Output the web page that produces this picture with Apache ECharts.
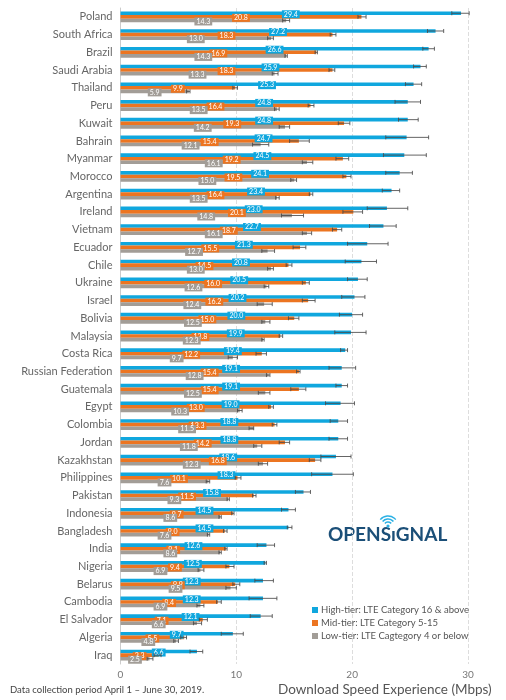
<!DOCTYPE html>
<html><head><meta charset="utf-8">
<script src="https://cdn.jsdelivr.net/npm/echarts@6/dist/echarts.min.js"></script>
<style>html,body{margin:0;padding:0;background:#fff}#c{width:506px;height:700px}</style>
</head><body><div id="c"></div>
<script>
const countries = ["Poland","South Africa","Brazil","Saudi Arabia","Thailand","Peru","Kuwait","Bahrain","Myanmar","Morocco","Argentina","Ireland","Vietnam","Ecuador","Chile","Ukraine","Israel","Bolivia","Malaysia","Costa Rica","Russian Federation","Guatemala","Egypt","Colombia","Jordan","Kazakhstan","Philippines","Pakistan","Indonesia","Bangladesh","India","Nigeria","Belarus","Cambodia","El Salvador","Algeria","Iraq"];
const high = [29.4,27.2,26.6,25.9,25.3,24.8,24.8,24.7,24.5,24.1,23.4,23.0,22.7,21.3,20.8,20.5,20.2,20.0,19.9,19.4,19.1,19.1,19.0,18.8,18.8,18.6,18.3,15.8,14.5,14.5,12.6,12.5,12.3,12.3,12.1,9.7,6.6];
const mid = [20.8,18.3,16.9,18.3,9.9,16.4,19.3,15.4,19.2,19.5,16.4,20.1,18.7,15.5,14.5,16.0,16.2,15.0,13.8,12.2,15.4,15.4,13.0,13.3,14.2,16.8,10.1,11.5,9.7,9.0,9.1,9.4,9.9,8.4,7.1,5.5,3.3];
const low = [14.3,13.0,14.3,13.3,5.9,13.5,14.2,12.1,16.1,15.0,13.5,14.8,16.1,12.7,13.0,12.6,12.4,12.5,12.3,9.7,12.8,12.5,10.3,11.5,11.8,12.3,7.6,9.3,8.6,7.6,8.6,6.9,9.5,6.9,6.6,4.8,2.5];
const highLo = [28.6,26.5,26.1,25.3,24.6,23.7,24.0,22.9,22.7,22.9,22.6,21.3,21.5,19.6,19.4,19.6,19.1,18.9,18.5,19.0,18.0,18.6,17.7,18.1,18.0,17.3,16.5,15.1,13.9,14.4,11.8,12.4,11.6,11.1,11.2,8.7,6.0];
const highHi = [30.1,27.9,27.1,26.4,26.0,25.9,25.7,26.6,26.4,25.2,24.1,24.8,23.8,23.1,22.1,21.3,21.1,20.9,21.2,19.6,20.3,19.6,20.2,19.6,19.6,19.9,20.1,16.4,15.1,14.8,13.3,12.6,13.2,13.5,13.1,10.6,7.1];
const midLo = [20.5,18.1,16.8,18.0,9.7,16.2,18.8,14.6,18.6,19.2,16.3,19.2,18.3,14.9,14.3,15.7,15.7,14.5,13.7,11.7,15.2,14.7,12.8,13.1,13.7,16.3,9.9,11.4,9.6,8.9,9.0,9.1,9.7,8.3,6.8,5.2,2.9];
const midHi = [21.2,18.6,17.0,18.5,10.1,16.7,19.8,16.3,19.7,19.9,16.6,20.9,19.1,16.0,14.8,16.3,16.8,15.4,14.0,12.6,15.5,16.0,13.2,13.5,14.6,17.3,10.4,11.7,9.8,9.2,9.2,9.8,10.3,8.7,7.5,5.7,3.5];
const lowLo = [14.0,12.7,14.2,13.1,5.7,13.3,13.7,11.4,15.7,14.7,13.4,13.9,15.7,12.2,12.7,12.4,11.8,12.2,12.2,9.3,12.6,11.9,10.1,11.1,11.5,11.9,7.4,9.2,8.5,7.5,8.5,6.7,9.1,6.6,6.3,4.6,2.3];
const lowHi = [14.6,13.2,14.4,13.6,6.0,13.7,14.6,12.8,16.6,15.2,13.7,15.8,16.5,13.3,13.2,12.8,13.1,12.9,12.4,10.1,12.9,12.9,10.5,11.5,12.2,12.7,7.7,9.4,8.7,7.7,8.7,7.2,10.0,7.2,7.0,5.0,2.8];
const xTicks = [0,10,20,30];
const seriesNames = ["High-tier: LTE Category 16 & above","Mid-tier: LTE Category 5-15","Low-tier: LTE Cagtegory 4 or below"];

const colors = ['#10a7de','#ec7521','#a29d97'];
const BW = 3.6;
const font = 'Lato, "Open Sans", sans-serif';

function barSeries(name, data, color){
  return {
    type:'bar', name, data, barWidth:BW, barGap:'0%',
    itemStyle:{color},
    label:{show:true, position:'inside', formatter:p=>p.value.toFixed(1),
      color:'#fff', fontSize:7, fontFamily:font, backgroundColor:color,
      padding:[1,2,0,2], lineHeight:7, offset:[0,1]}
  };
}
function errSeries(lo, hi, offset){
  const data = lo.map((v,i)=>[v, hi[i], i]);
  return {
    type:'custom', data, encode:{x:[0,1], y:2}, z:3, silent:true,
    renderItem:function(params, api){
      const a = api.coord([api.value(0), api.value(2)]);
      const b = api.coord([api.value(1), api.value(2)]);
      const y = a[1] + offset;
      const st = {stroke:'#4a4a4a', lineWidth:1, opacity:0.85};
      return {type:'group', children:[
        {type:'line', shape:{x1:a[0], y1:y, x2:b[0], y2:y}, style:st},
        {type:'line', shape:{x1:a[0], y1:y-2, x2:a[0], y2:y+2}, style:st},
        {type:'line', shape:{x1:b[0], y1:y-2, x2:b[0], y2:y+2}, style:st}
      ]};
    }
  };
}

const chart = echarts.init(document.getElementById('c'));
chart.setOption({
  animation:false,
  textStyle:{fontFamily:font},
  grid:{left:120.5, right:38, top:8, bottom:36},
  xAxis:{type:'value', min:xTicks[0], max:xTicks[xTicks.length-1], interval:10,
    axisLine:{show:false}, axisTick:{show:false},
    axisLabel:{color:'#777', fontSize:10, fontFamily:font, margin:6},
    splitLine:{show:true, lineStyle:{color:'#ddd', type:'dashed', width:1}}},
  yAxis:{type:'category', data:countries, inverse:true,
    axisLine:{show:true, lineStyle:{color:'#ccc'}}, axisTick:{show:false},
    axisLabel:{color:'#666', fontSize:11, fontFamily:font, margin:8}},
  legend:{orient:'vertical', left:307, top:600, itemWidth:6, itemHeight:6, itemGap:3,
    icon:'rect', data:seriesNames,
    textStyle:{color:'#555', fontSize:9.5, fontFamily:font, padding:[0,0,0,-2]}},
  series:[
    barSeries(seriesNames[0], high, colors[0]),
    barSeries(seriesNames[1], mid, colors[1]),
    barSeries(seriesNames[2], low, colors[2]),
    errSeries(highLo, highHi, -BW),
    errSeries(midLo, midHi, 0),
    errSeries(lowLo, lowHi, BW)
  ],
  graphic:[
    {type:'text', left:10, top:685, style:{text:'Data collection period April 1 – June 30, 2019.', fill:'#444', fontSize:9.5, fontFamily:font}},
    {type:'text', left:278, top:683, style:{text:'Download Speed Experience (Mbps)', fill:'#555', fontSize:13.5, fontFamily:font}},
    {type:'text', left:328, top:525, style:{text:'OPENS\u0131GNAL', fill:'#1b4f78', fontSize:19, fontWeight:'bold', fontFamily:font}},
    {type:'circle', shape:{cx:388, cy:526, r:1.6}, style:{fill:'#2ab0e4'}},
    {type:'arc', shape:{cx:388, cy:526, r:4, startAngle:-Math.PI*0.78, endAngle:-Math.PI*0.22}, style:{stroke:'#2ab0e4', lineWidth:1.5, fill:null}},
    {type:'arc', shape:{cx:388, cy:526, r:7, startAngle:-Math.PI*0.78, endAngle:-Math.PI*0.22}, style:{stroke:'#2ab0e4', lineWidth:1.5, fill:null}},
    {type:'arc', shape:{cx:388, cy:526, r:10, startAngle:-Math.PI*0.78, endAngle:-Math.PI*0.22}, style:{stroke:'#2ab0e4', lineWidth:1.5, fill:null}}
  ]
});
</script></body></html>
